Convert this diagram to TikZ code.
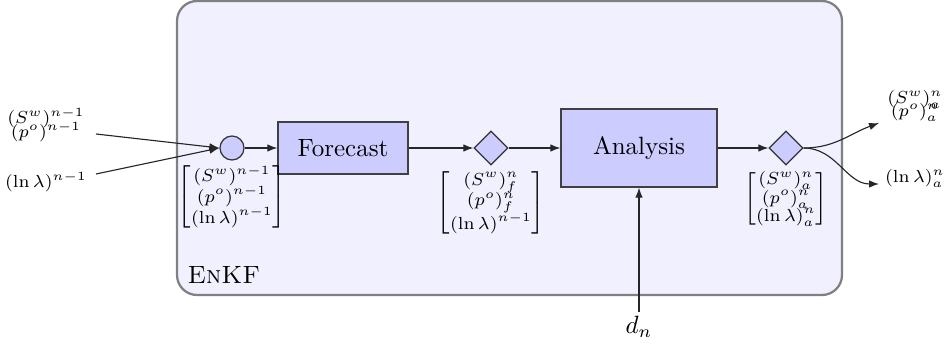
\documentclass[tikz,border=0pt]{standalone}
\usepackage{amsmath}
\usetikzlibrary{shapes.geometric,arrows.meta}
\begin{document}
\begin{tikzpicture}[x=0.4pt,y=-0.4pt,
  block/.style={draw=black!75, fill=blue!20, line width=0.5pt, inner sep=0},
  junc/.style={circle, draw=black!80, fill=blue!20, line width=0.5pt, minimum size=9.6pt, inner sep=0},
  dia/.style={diamond, draw=black!80, fill=blue!20, line width=0.5pt, minimum width=13.6pt, minimum height=13.6pt, inner sep=0},
  arr/.style={-{Latex[length=4pt,width=3pt]}, line width=0.45pt, draw=black!85},
  lab/.style={font=\scriptsize, inner sep=0, anchor=base},
  vec/.style={font=\scriptsize, inner sep=0}]
\useasboundingbox (0,0) rectangle (944,352);
% outer EnKF frame
\draw[draw=black!50, fill=blue!6, line width=0.9pt, rounded corners=8pt] (177,1) rectangle (842,295);
\node[anchor=base west, inner sep=0] (enkf) at (187,283) {\textsc{EnKF}};

% blocks
\node[junc] (c) at (232,148) {};
\node[block, minimum width=52pt, minimum height=20.8pt] (fc) at (343,148) {Forecast};
\node[dia] (d1) at (491,148) {};
\node[block, minimum width=62.4pt, minimum height=31.2pt] (an) at (639,148) {Analysis};
\node[dia] (d2) at (786,148) {};

% vectors under junctions
\node[vec] (v1) at (232,197) {$\def\arraystretch{0.8}\begin{bmatrix}(S^w)^{n-1}\\(p^o)^{n-1}\\(\ln\lambda)^{n-1}\end{bmatrix}$};
\node[vec] (v2) at (491,203) {$\def\arraystretch{0.8}\begin{bmatrix}(S^w)^{n}_{f}\\(p^o)^{n}_{f}\\(\ln\lambda)^{n-1}\end{bmatrix}$};
\node[vec] (v3) at (786,199) {$\def\arraystretch{0.8}\begin{bmatrix}(S^w)^{n}_{a}\\(p^o)^{n}_{a}\\(\ln\lambda)^{n}_{a}\end{bmatrix}$};

% inputs
\node[lab] (in1a) at (46,124) {$(S^w)^{n-1}$};
\node[lab] (in1b) at (46,138) {$(p^o)^{n-1}$};
\node[lab] (in2) at (46,188) {$(\ln\lambda)^{n-1}$};
\coordinate (s1) at (96,134);
\coordinate (s2) at (96,174);
\draw[arr] (s1) -- (c.west);
\draw[arr] (s2) -- (c.west);

% outputs
\node[lab] (out1a) at (915,104) {$(S^w)^{n}_{a}$};
\node[lab] (out1b) at (915,117) {$(p^o)^{n}_{a}$};
\node[lab] (out2) at (915,183) {$(\ln\lambda)^{n}_{a}$};
\coordinate (e1) at (879,123);
\coordinate (e2) at (879,184);
\draw[arr] (d2.east) to[out=0,in=200] (e1);
\draw[arr] (d2.east) to[out=0,in=180] (e2);

% chain
\draw[arr] (c) -- (fc);
\draw[arr] (fc) -- (d1);
\draw[arr] (d1) -- (an);
\draw[arr] (an) -- (d2);

% observation
\node[inner sep=0] (dn) at (639,327) {$d_n$};
\coordinate (ds) at (639,312);
\draw[arr] (ds) -- (an.south);
\end{tikzpicture}
\end{document}
